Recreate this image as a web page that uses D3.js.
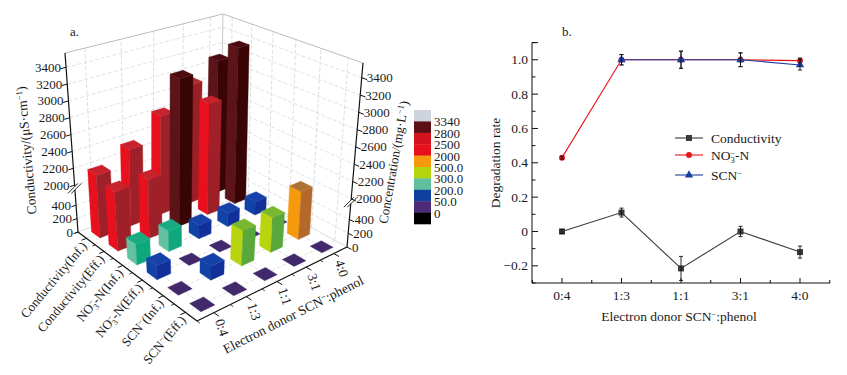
<!DOCTYPE html>
<html><head><meta charset="utf-8">
<script src="https://d3js.org/d3.v7.min.js"></script>
<style>html,body{margin:0;padding:0;background:#fff}svg{display:block}text{font-family:"Liberation Serif","Times New Roman",serif;fill:#1a1a1a}</style>
</head><body><svg id="c" width="847" height="375"></svg>
<script>
const ratios=["0:4","1:3","1:1","3:1","4:0"];
const seriesNames=["Conductivity(Inf.)","Conductivity(Eff.)","NO3-N(Inf.)","NO3-N(Eff.)","SCN(Inf.)","SCN(Eff.)"];
const condInf=[2180,2350,2630,2900,3100];
const condEff=[2130,2130,3200,2780,3360];
const no3Inf=[300,300,200,200,200];
const no3Eff=[200,0,0,0,0];
const scnInf=[0,200,500,500,2000];
const scnEff=[0,0,0,0,0];
const matrix=[condInf,condEff,no3Inf,no3Eff,scnInf,scnEff];
const legendLabels=["3340","2800","2500","2000","500.0","300.0","200.0","50.0","0"];
const legendColors=["#cfd3dc","#5a1015","#d3141e","#e8101c","#f59a0c","#b4d410","#5fbf9f","#103f9f","#4c2a76","#000000"];
const zTicksLow=[0,200,400];
const zTicksHigh=[2000,2200,2400,2600,2800,3000,3200,3400];
const rateRatios=ratios;
const conductivity=[0,0.11,-0.215,0,-0.12];
const conductivityErr=[0.012,0.026,0.07,0.03,0.035];
const no3Rate=[0.43,1,1,1,0.995];
const no3Err=[0.008,0.03,0.05,0.04,0.015];
const scnRate=[null,1,1,1,0.97];
const scnErr=[0,0.03,0.05,0.04,0.03];
const rateTicks=[-0.2,0,0.2,0.4,0.6,0.8,1.0];
const rateMinor=[-0.3,-0.1,0.1,0.3,0.5,0.7,0.9,1.1];

// face colours [left, right, top] for each value class
const palette={
 purple:["#3f2a6b","#3f2a6b","#41296c"],
 blue:["#1142a6","#11309a","#1541a8"],
 teal:["#63c0a2","#0fa87c","#18ab82"],
 yg:["#b8d40e","#58a83c","#78b82e"],
 orange:["#f59a0c","#b4682a","#b07030"],
 red:["#e8101c","#a0202a","#c8222c"],
 crimson:["#a8252c","#9a2028","#b02a30"],
 maroon:["#5c1418","#380404","#4a0a0e"]
};
const colorScale=d3.scaleThreshold()
 .domain([50,250,350,1000,2100,2850,3000])
 .range(["purple","blue","teal","yg","orange","red","crimson","maroon"]);

const svg=d3.select("#c");

// ---- projection
function quad(p){ // unit square -> quad homography (p00,p10,p11,p01)
 const [x0,y0]=p[0],[x1,y1]=p[1],[x2,y2]=p[2],[x3,y3]=p[3];
 const dx1=x1-x2,dx2=x3-x2,sx=x0-x1+x2-x3,dy1=y1-y2,dy2=y3-y2,sy=y0-y1+y2-y3;
 const det=dx1*dy2-dx2*dy1;
 const g=(sx*dy2-dx2*sy)/det,h=(dx1*sy-sx*dy1)/det;
 const a=x1-x0+g*x1,b=x3-x0+h*x3,d=y1-y0+g*y1,e=y3-y0+h*y3;
 return (u,v)=>{const w=g*u+h*v+1;return [(a*u+b*v+x0)/w,(d*u+e*v+y0)/w];};
}
const floorQ=quad([[78,232],[220,178],[347,247],[197,321]]);
const topQ=quad([[65,53],[223,14],[363,63],[197,137]]);
const hScale=d3.scaleLinear().domain([0,600,2000,3570]).range([0,.225,.262,1]);
const P=(u,v,f)=>{const a=floorQ(u,v),b=topQ(u,v);return [a[0]+(b[0]-a[0])*f,a[1]+(b[1]-a[1])*f];};
const uBand=d3.scaleBand().domain(ratios).range([0,1]);
const vBand=d3.scaleBand().domain(seriesNames).range([0,1]);
const uc=r=>uBand(r)+uBand.bandwidth()/2, vc=s=>vBand(s)+vBand.bandwidth()/2;
const line=d3.line();
const g=svg.append("g");
const seg=(a,b,col,w,dash)=>g.append("path").attr("d",line([a,b])).attr("fill","none").attr("stroke",col).attr("stroke-width",w).attr("stroke-dasharray",dash||null);
const gridCol="#d2d5d9",dash="4 2";

// walls + floor grid
ratios.forEach(r=>{const u=uc(r);
 seg(P(u,0,0),P(u,0,1),gridCol,.8,dash);
 seg(P(u,0,0),P(u,1,0),gridCol,.7,dash);
});
seriesNames.forEach(s=>{const v=vc(s);
 seg(P(1,v,0),P(1,v,1),gridCol,.8,dash);
 seg(P(0,v,0),P(1,v,0),gridCol,.7,dash);
});
zTicksLow.concat(zTicksHigh).forEach(t=>{const f=hScale(t);
 if(t===0)return;
 seg(P(0,0,f),P(1,0,f),gridCol,.7,dash);
 seg(P(1,0,f),P(1,1,f),gridCol,.7,dash);
});
seg(P(0,0,1),P(1,0,1),"#b8bcc2",1);
seg(P(1,0,1),P(1,1,1),"#b8bcc2",1);
seg(P(1,0,0),P(1,0,1),"#c4c8cc",1);
seg(P(0,0,0),P(1,0,0),gridCol,.8);
seg(P(1,0,0),P(1,1,0),gridCol,.8);

// axes
const black="#111";
seg(P(0,0,0),P(0,1,0),black,1.2);
seg(P(0,1,0),P(1,1,0),black,1.2);
const brk=hScale(1300);
[[0,0],[1,1]].forEach(([u,v])=>{
 seg(P(u,v,0),P(u,v,hScale(1000)),black,1.2);
 seg(P(u,v,hScale(1800)),P(u,v,1),black,1.2);
 const c=P(u,v,brk);
 [-2,1.5].forEach(o=>g.append("path").attr("d",line([[c[0]-5+o,c[1]+5],[c[0]+5+o,c[1]-5]])).attr("stroke",black).attr("stroke-width",.9));
});
zTicksLow.concat(zTicksHigh).forEach(t=>{const f=hScale(t);
 seg(P(0,0,f),P(-.028,0,f),black,1);
 seg(P(1,1,f),P(1,1.03,f),black,1);
 const a=P(0,0,f),b=P(1,1,f);
 g.append("text").attr("x",a[0]-5).attr("y",a[1]+4.5).attr("text-anchor","end").attr("font-size",13).text(t);
 g.append("text").attr("x",b[0]+5).attr("y",b[1]+4.5).attr("font-size",13).text(t);
});
ratios.forEach(r=>{const u=uc(r);
 seg(P(u,1,0),P(u,1.035,0),black,1);
 seg(P(uBand(r),1,0),P(uBand(r),1.02,0),black,.8);
});
seriesNames.forEach(s=>{const v=vc(s);
 seg(P(0,v,0),P(-.03,v,0),black,1);
 seg(P(0,vBand(s),0),P(-.018,vBand(s),0),black,.8);
});

// bars back to front
const half=0.042;
const bars=[];
seriesNames.forEach((s,j)=>ratios.forEach((r,i)=>bars.push({s,r,i,j,val:matrix[j][i]})));
bars.sort((a,b)=>a.j-b.j||b.i-a.i);
const poly=(pts,fill)=>g.append("path").attr("d",line(pts)+"Z").attr("fill",fill).attr("stroke",fill).attr("stroke-width",.4);
bars.forEach(b=>{
 const u0=uc(b.r)-half,u1=uc(b.r)+half,v0=vc(b.s)-half*.98,v1=vc(b.s)+half*.98;
 const f=hScale(b.val),c=palette[colorScale(b.val)];
 if(f>0){
  poly([P(u0,v0,0),P(u0,v1,0),P(u0,v1,f),P(u0,v0,f)],c[0]);
  poly([P(u0,v1,0),P(u1,v1,0),P(u1,v1,f),P(u0,v1,f)],c[1]);
 }
 poly([P(u0,v0,f),P(u1,v0,f),P(u1,v1,f),P(u0,v1,f)],c[2]);
});

// text in panel a
function rich(sel,parts){
 parts.forEach(p=>{const t=sel.append("tspan").text(p.t);
  if(p.dy)t.attr("dy",p.dy); if(p.dx)t.attr("dx",p.dx); if(p.fs)t.attr("font-size",p.fs);});
}
const seriesParts=[
 [{t:"Conductivity(Inf.)"}],
 [{t:"Conductivity(Eff.)"}],
 [{t:"NO"},{t:"3",dy:3,fs:8.5},{t:"−",dy:-7,dx:-4.5,fs:8.5},{t:"-N(Inf.)",dy:4}],
 [{t:"NO"},{t:"3",dy:3,fs:8.5},{t:"−",dy:-7,dx:-4.5,fs:8.5},{t:"-N(Eff.)",dy:4}],
 [{t:"SCN"},{t:"−",dy:-4,fs:8.5},{t:"(Inf.)",dy:4}],
 [{t:"SCN"},{t:"−",dy:-4,fs:8.5},{t:"(Eff.)",dy:4}]
];
seriesNames.forEach((s,j)=>{const p=P(0,vc(s),0);
 const t=g.append("text").attr("text-anchor","end").attr("font-size",13)
  .attr("transform",`translate(${p[0]+1},${p[1]+8}) rotate(-50)`);
 rich(t,seriesParts[j]);
});
ratios.forEach(r=>{const p=P(uc(r),1,0);
 g.append("text").attr("font-size",13.5).attr("transform",`translate(${p[0]+1},${p[1]+8}) rotate(72)`).text(r);
});
rich(g.append("text").attr("font-size",13.5).attr("transform","translate(226,354) rotate(-27)"),
 [{t:"Electron donor SCN"},{t:"−",dy:-4,fs:8.5},{t:":phenol",dy:4}]);
rich(g.append("text").attr("font-size",13.5).attr("text-anchor","middle").attr("transform","translate(31,150) rotate(-95)"),
 [{t:"Conductivity/(μS·cm"},{t:"−1",dy:-4,fs:9},{t:")",dy:4}]);
rich(g.append("text").attr("font-size",13).attr("text-anchor","middle").attr("transform","translate(398,163) rotate(-80)"),
 [{t:"Concentration/(mg·L"},{t:"−1",dy:-4,fs:9},{t:")",dy:4}]);
g.append("text").attr("x",70).attr("y",36).attr("font-size",13).text("a.");

// colour legend
const lgY=d3.scaleBand().domain(d3.range(legendColors.length)).range([110,224]);
legendColors.forEach((c,i)=>g.append("rect").attr("x",414).attr("y",lgY(i)).attr("width",17).attr("height",lgY.bandwidth()+.3).attr("fill",c));
legendLabels.forEach((l,i)=>g.append("text").attr("x",434).attr("y",lgY(i+1)+5).attr("font-size",13).text(l));

// ---- panel b
const b=svg.append("g");
const x=d3.scalePoint().domain(rateRatios).range([562,800]);
const y=d3.scaleLinear().domain([-0.3,1.1]).range([283,42.6]);
const L=532,R=830,B=283,T=42.6;
b.append("path").attr("d",`M${L},${T}V${B}H${R}`).attr("fill","none").attr("stroke","#111").attr("stroke-width",1);
b.append("path").attr("d",`M${L},${T}h6`).attr("stroke","#111");
rateTicks.forEach(t=>{
 b.append("line").attr("x1",L).attr("x2",L+6).attr("y1",y(t)).attr("y2",y(t)).attr("stroke","#111");
 b.append("text").attr("x",L-4).attr("y",y(t)+4.5).attr("text-anchor","end").attr("font-size",13.5).text(t===0?"0":(t<0?"−":"")+Math.abs(t).toFixed(1));
});
rateMinor.forEach(t=>b.append("line").attr("x1",L).attr("x2",L+3.5).attr("y1",y(t)).attr("y2",y(t)).attr("stroke","#111"));
rateRatios.forEach((r,i)=>{
 b.append("line").attr("x1",x(r)).attr("x2",x(r)).attr("y1",B).attr("y2",B-5).attr("stroke","#111");
 b.append("text").attr("x",x(r)).attr("y",B+17).attr("text-anchor","middle").attr("font-size",13.5).text(r);
});
const step=x.step();
[x("0:4")-step/2].concat(rateRatios.map(r=>x(r)+step/2)).forEach(p=>b.append("line").attr("x1",p).attr("x2",p).attr("y1",B).attr("y2",B-3).attr("stroke","#111"));
rich(b.append("text").attr("x",679).attr("y",321).attr("text-anchor","middle").attr("font-size",13.5),
 [{t:"Electron donor SCN"},{t:"−",dy:-4,fs:8.5},{t:":phenol",dy:4}]);
b.append("text").attr("font-size",13.5).attr("text-anchor","middle").attr("transform","translate(500,163) rotate(-90)").text("Degradation rate");
b.append("text").attr("x",562).attr("y",36).attr("font-size",13).text("b.");

const COND="#3a3a3a",NO3="#e8151c",SCN="#1a3ea0";
function marker(sel,kind,cx,cy,col){
 if(kind==="s")sel.append("rect").attr("x",cx-3).attr("y",cy-3).attr("width",6).attr("height",6).attr("fill",col);
 if(kind==="c")sel.append("circle").attr("cx",cx).attr("cy",cy).attr("r",3).attr("fill",col);
 if(kind==="t")sel.append("path").attr("d",d3.symbol(d3.symbolTriangle,30)()).attr("transform",`translate(${cx},${cy})`).attr("fill",col);
}
const rl=d3.line().defined(d=>d[1]!==null).x(d=>x(d[0])).y(d=>y(d[1]));
const drawSeries=(vals,errs,col,kind)=>{
 const pts=rateRatios.map((r,i)=>[r,vals[i]]);
 b.append("path").attr("d",rl(pts)).attr("fill","none").attr("stroke",col).attr("stroke-width",1.1);
 pts.forEach((d,i)=>{ if(d[1]===null)return;
  const px=x(d[0]),e=errs[i];
  marker(b,kind,px,y(d[1]),col);
  b.append("path").attr("d",`M${px},${y(d[1]-e)}V${y(d[1]+e)}M${px-2},${y(d[1]-e)}h4M${px-2},${y(d[1]+e)}h4`).attr("stroke","#111").attr("fill","none").attr("stroke-width",.9);
 });
};
drawSeries(conductivity,conductivityErr,COND,"s");
drawSeries(no3Rate,no3Err,NO3,"c");
drawSeries(scnRate,scnErr,SCN,"t");
const lgItems=[{c:COND,k:"s",y:138,p:[{t:"Conductivity"}]},
 {c:NO3,k:"c",y:155,p:[{t:"NO"},{t:"3",dy:3,fs:8.5},{t:"−",dy:-7,dx:-4.5,fs:8.5},{t:"-N",dy:4}]},
 {c:SCN,k:"t",y:175,p:[{t:"SCN"},{t:"−",dy:-4,fs:8.5}]}];
lgItems.forEach(l=>{
 b.append("line").attr("x1",675).attr("x2",703).attr("y1",l.y).attr("y2",l.y).attr("stroke",l.c).attr("stroke-width",1.1);
 marker(b,l.k,689,l.y,l.c);
 rich(b.append("text").attr("x",711).attr("y",l.y+4.5).attr("font-size",13.5),l.p);
});
</script></body></html>
